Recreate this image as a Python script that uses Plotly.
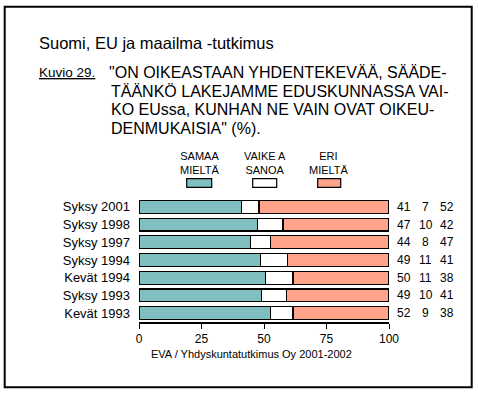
import plotly.graph_objects as go

categories = ["Syksy 2001", "Syksy 1998", "Syksy 1997", "Syksy 1994", "Kevät 1994", "Syksy 1993", "Kevät 1993"]
samaa = [41, 47, 44, 49, 50, 49, 52]
vaikea = [7, 10, 8, 11, 11, 10, 9]
eri = [52, 42, 47, 41, 38, 41, 38]
series_names = ["SAMAA<br>MIELTÄ", "VAIKE A<br>SANOA", "ERI<br>MIELTÄ"]
colors = ["#80BFBF", "#FFFFFF", "#FFA38A"]
xticks = [0, 25, 50, 75, 100]

W, H = 478, 393
L, R = 139.3, 389.3
T, B = 197.6, 322.4
PW, PH = R - L, B - T

def px(x):
    return (x - L) / PW

def py(y):
    return (B - y) / PH

FONT = "Liberation Sans, Arial, sans-serif"

fig = go.Figure()
for name, vals, col in zip(series_names, [samaa, vaikea, eri], colors):
    fig.add_trace(go.Bar(
        y=categories, x=vals, orientation="h", name=name,
        marker=dict(color=col, line=dict(color="black", width=1.2)),
        showlegend=False, hoverinfo="skip",
    ))

annotations = []
# value columns on the right
col_x = [404, 426, 447]
for i, cat in enumerate(categories):
    for cx, vals in zip(col_x, [samaa, vaikea, eri]):
        annotations.append(dict(
            x=px(cx), y=cat, xref="paper", yref="y", text=str(vals[i]),
            showarrow=False, xanchor="center", yanchor="middle",
            font=dict(size=12, color="black", family=FONT)))

# custom legend
leg_cx = [200, 265, 329]
sw = [(187, 212), (253, 277), (318, 341)]
shapes = []
for name, cx, (x0, x1), col in zip(series_names, leg_cx, sw, colors):
    annotations.append(dict(
        x=px(cx), y=py(162), xref="paper", yref="paper", text=name,
        showarrow=False, xanchor="center", yanchor="middle", align="center",
        font=dict(size=11, color="black", family=FONT)))
    shapes.append(dict(type="rect", xref="paper", yref="paper",
                       x0=px(x0), x1=px(x1), y0=py(187), y1=py(178),
                       fillcolor=col, line=dict(color="black", width=1.2)))

# titles
annotations.append(dict(x=px(37), y=py(42), xref="paper", yref="paper",
                        text="Suomi, EU ja maailma -tutkimus", showarrow=False,
                        xanchor="left", yanchor="middle",
                        font=dict(size=16.5, color="black", family=FONT)))
annotations.append(dict(x=px(37), y=py(71), xref="paper", yref="paper",
                        text="<u>Kuvio 29.</u>", showarrow=False,
                        xanchor="left", yanchor="middle",
                        font=dict(size=13.5, color="black", family=FONT)))
quote_lines = ["\"ON OIKEASTAAN YHDENTEKEVÄÄ, SÄÄDE-",
               "TÄÄNKÖ LAKEJAMME EDUSKUNNASSA VAI-",
               "KO EUssa, KUNHAN NE VAIN OVAT OIKEU-",
               "DENMUKAISIA\" (%)."]
quote_x = [107, 109, 109, 109]
quote_y = [71, 90, 109, 128]
for t, qx, qy in zip(quote_lines, quote_x, quote_y):
    annotations.append(dict(x=px(qx), y=py(qy), xref="paper", yref="paper",
                            text=t, showarrow=False, xanchor="left", yanchor="middle",
                            font=dict(size=16, color="black", family=FONT)))
annotations.append(dict(x=px(149), y=py(355), xref="paper", yref="paper",
                        text="EVA / Yhdyskuntatutkimus Oy 2001-2002", showarrow=False,
                        xanchor="left", yanchor="middle",
                        font=dict(size=11, color="black", family=FONT)))

# outer frame
shapes.append(dict(type="rect", xref="paper", yref="paper",
                   x0=px(5), x1=px(472), y0=py(388), y1=py(5),
                   line=dict(color="black", width=2), fillcolor="rgba(0,0,0,0)"))

fig.update_layout(
    width=W, height=H,
    margin=dict(l=L, r=W - R, t=T, b=H - B, pad=0),
    barmode="stack", barnorm="percent", bargap=0.27,
    paper_bgcolor="white", plot_bgcolor="white",
    font=dict(family=FONT, size=12, color="black"),
    xaxis=dict(range=[0, 100], tickvals=xticks, ticks="outside", ticklen=5,
               tickwidth=1, tickcolor="black", showgrid=False, zeroline=False,
               showline=True, linecolor="black", linewidth=2,
               tickfont=dict(size=12, family=FONT, color="black"), fixedrange=True),
    yaxis=dict(categoryorder="array", categoryarray=categories[::-1],
               range=[-0.5, 6.5], showgrid=False, zeroline=False, showline=False,
               ticks="", ticklabelstandoff=8,
               tickfont=dict(size=13, family=FONT, color="black"), fixedrange=True),
    annotations=annotations, shapes=shapes,
)

fig.write_html("out.html", config={"displayModeBar": False},
               post_script="document.body.style.margin='0';document.body.style.overflow='hidden';")
